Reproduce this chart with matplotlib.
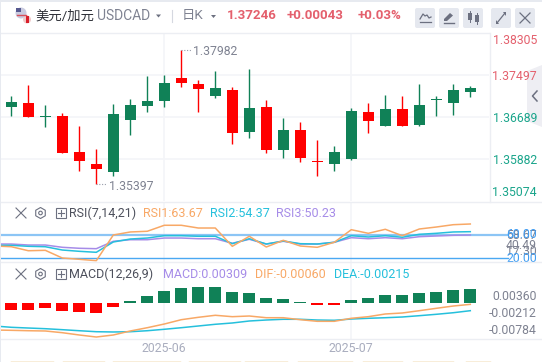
import matplotlib
matplotlib.use("Agg")
import matplotlib.pyplot as plt
from matplotlib.patches import Circle, FancyBboxPatch, Polygon, Rectangle, RegularPolygon

plt.rcParams['font.family'] = ['Roboto', 'Noto Sans CJK SC', 'DejaVu Sans']

# daily candles
opens = [1.36881, 1.36958, 1.36689, 1.36708, 1.36016, 1.35785, 1.35631, 1.36631, 1.36901, 1.36997,
         1.37439, 1.37324, 1.37093, 1.37208, 1.36400, 1.36881, 1.36054, 1.36439, 1.35842, 1.35785,
         1.35881, 1.36785, 1.36516, 1.36843, 1.36535, 1.37016, 1.36958, 1.37170]
highs = [1.37093, 1.37305, 1.36920, 1.36766, 1.36516, 1.36073, 1.36939, 1.37035, 1.37478, 1.37497,
         1.37982, 1.37401, 1.37574, 1.37266, 1.37612, 1.37016, 1.36670, 1.36593, 1.36247, 1.36131,
         1.36862, 1.36958, 1.37112, 1.37093, 1.37324, 1.37093, 1.37324, 1.37285]
lows = [1.36708, 1.36689, 1.36497, 1.35997, 1.35650, 1.35397, 1.35554, 1.36343, 1.36785, 1.36881,
        1.37266, 1.36785, 1.37055, 1.36170, 1.36285, 1.35997, 1.35900, 1.35823, 1.35554, 1.35650,
        1.35862, 1.36381, 1.36516, 1.36516, 1.36516, 1.36708, 1.36727, 1.37074]
closes = [1.36978, 1.36689, 1.36708, 1.35997, 1.35842, 1.35689, 1.36747, 1.36920, 1.36997, 1.37343,
          1.37343, 1.37228, 1.37247, 1.36381, 1.36862, 1.36054, 1.36439, 1.35900, 1.35823, 1.36016,
          1.36804, 1.36612, 1.36843, 1.36516, 1.36920, 1.37035, 1.37208, 1.37246]

price_ticks = [1.38305, 1.37497, 1.36689, 1.35882, 1.35074]

# indicator lines start one day before the first candle, off the left edge
rsi1 = [41.1, 39.9, 33.0, 33.7, 20.5, 18.3, 15.9, 60.0, 65.2, 66.4, 76.7, 76.7, 72.0, 72.0, 40.6,
        57.8, 39.4, 50.9, 41.1, 38.9, 47.5, 69.1, 62.9, 69.8, 58.8, 70.3, 73.7, 77.7, 78.9]
rsi2 = [42.3, 42.3, 40.6, 39.9, 34.2, 32.0, 30.3, 48.0, 53.1, 54.8, 58.8, 58.8, 57.8, 57.8, 45.1,
        53.6, 44.5, 49.7, 45.1, 44.5, 47.5, 58.8, 56.6, 58.8, 56.1, 61.2, 62.9, 65.2, 65.7]
rsi3 = [44.5, 44.5, 42.8, 42.8, 38.9, 37.2, 36.5, 49.2, 51.9, 51.9, 54.8, 54.8, 53.6, 53.6, 45.8,
        52.6, 44.5, 49.2, 44.5, 44.5, 47.5, 55.4, 53.6, 55.4, 53.6, 57.1, 58.3, 59.5, 60.0]
rsi_ticks = [58.67, 60.00, 40.49, 17.30, 20.00]

macd_hist = [-0.00156, -0.00156, -0.00111, -0.00178, -0.00200, -0.00222, -0.00089, 0.00044, 0.00156, 0.00267,
             0.00333, 0.00356, 0.00356, 0.00244, 0.00222, 0.00111, 0.00089, 0.00022, -0.00044, -0.00044,
             0.00067, 0.00111, 0.00178, 0.00178, 0.00222, 0.00244, 0.00289, 0.00309]
dif = [-0.00600, -0.00607, -0.00616, -0.00622, -0.00660, -0.00711, -0.00756, -0.00711, -0.00622, -0.00549,
       -0.00467, -0.00371, -0.00318, -0.00273, -0.00304, -0.00289, -0.00327, -0.00327, -0.00371, -0.00407,
       -0.00407, -0.00340, -0.00304, -0.00244, -0.00222, -0.00171, -0.00118, -0.00067, -0.00030]
dea = [-0.00511, -0.00540, -0.00556, -0.00571, -0.00593, -0.00616, -0.00638, -0.00644, -0.00638, -0.00616,
       -0.00584, -0.00549, -0.00511, -0.00473, -0.00444, -0.00400, -0.00378, -0.00362, -0.00362, -0.00378,
       -0.00384, -0.00356, -0.00340, -0.00327, -0.00311, -0.00282, -0.00251, -0.00216, -0.00171]
macd_ticks = [0.00360, -0.00212, -0.00784]

month_pos = [9, 20]
month_labels = ["2025-06", "2025-07"]

W, H = 542, 362
UP = "#108157"
DOWN = "#ff0000"
ORANGE = "#f8a866"
CYAN = "#25c0dc"
PURPLE = "#a68ce8"
GRID = "#f4f5f8"
LINE = "#eceef3"
GREY = "#7e8291"
ICON = "#6c7080"
days = list(range(len(opens)))
line_days = list(range(-1, len(opens)))

fig = plt.figure(figsize=(W / 100, H / 100), dpi=100, facecolor="white")


def pixel_axes(z):
    a = fig.add_axes([0, 0, 1, 1])
    a.set_xlim(0, W)
    a.set_ylim(H, 0)
    a.axis("off")
    a.set_zorder(z)
    return a


# side tab sits under the price labels, the rest of the chrome over the panels
under = pixel_axes(-1)
under.add_patch(Polygon([(542, 65), (527, 71), (527, 121), (542, 127)], color="#eeeef3", lw=0))
bg = pixel_axes(5)
bg.add_patch(Rectangle((0, 0), W, 2, color="#e7eaf0", lw=0))
bg.add_patch(Rectangle((0, 0), 1, H, color="#e7eaf0", lw=0))


def panel(top, bottom, ylim):
    ax = fig.add_axes([1 / W, 1 - bottom / H, 488 / W, (bottom - top) / H])
    ax.set_xlim((1 - 11.3) / 17, (489 - 11.3) / 17)
    ax.set_ylim(*ylim)
    ax.patch.set_alpha(0)
    ax.axis("off")
    for m in month_pos:
        ax.axvline(m, color=GRID, lw=1.2, zorder=0)
    return ax


def tick(ax, value, label, color, dy=0):
    ax.annotate(label, xy=(1, value), xycoords=ax.get_yaxis_transform(), xytext=(48, dy),
                textcoords="offset pixels", ha="right", va="center", fontsize=8.8, color=color,
                annotation_clip=False)


def px_text(x, y, s, color, size=9.0, ha="left", weight="normal"):
    bg.text(x, y, s, color=color, fontsize=size, ha=ha, va="center", fontweight=weight)


# main candle panel
ax = panel(33, 201, (price_ticks[-1], price_ticks[0]))
for p in price_ticks[:-1]:
    ax.axhline(p, color=GRID, lw=1.2, zorder=0)
colors = [UP if c >= o else DOWN for o, c in zip(opens, closes)]
ax.vlines(days, lows, highs, colors=colors, lw=1.0, zorder=2)
ax.bar(days, [abs(c - o) for o, c in zip(opens, closes)], bottom=[min(o, c) for o, c in zip(opens, closes)],
       width=0.65, color=colors, lw=0, zorder=3)
hi = highs.index(max(highs))
lo = lows.index(min(lows))
ax.plot([hi, hi + 0.55], [highs[hi]] * 2, color="#9a9eab", lw=0.8, ls=(0, (1, 1.5)))
ax.plot([lo, lo + 0.55], [lows[lo]] * 2, color="#9a9eab", lw=0.8, ls=(0, (1, 1.5)))
ax.annotate("%.5f" % highs[hi], xy=(hi, highs[hi]), xytext=(12, -2), textcoords="offset pixels",
            color=GREY, fontsize=8.8, va="center")
ax.annotate("%.5f" % lows[lo], xy=(lo, lows[lo]), xytext=(13, -2), textcoords="offset pixels",
            color=GREY, fontsize=8.8, va="center")
price_colors = ["#e4606d", "#e4606d", "#1aa58b", "#1aa58b", "#1aa58b"]
price_dy = [-7.5, -1.5, -1, -2, 9]
for p, c, d in zip(price_ticks, price_colors, price_dy):
    tick(ax, p, "%.5f" % p, c, d)

# RSI panel
ax2 = panel(202, 262, (13.65, 116.65))
ax2.plot([-1, 29.2], [60, 60], color="#8cc5f5", lw=1.6, clip_on=False, zorder=1)
ax2.plot([-0.6, 29.2], [20, 20], color="#4aa8f2", lw=1.0, clip_on=False, zorder=1)
ax2.plot(line_days, rsi3, color=PURPLE, lw=1.1, zorder=2)
ax2.plot(line_days, rsi2, color=CYAN, lw=1.1, zorder=3)
ax2.plot(line_days, rsi1, color=ORANGE, lw=1.1, zorder=4)
rsi_colors = [GREY, "#3f9cf2", GREY, GREY, "#3f9cf2"]
rsi_dy = [0, 0, 1, 8, 0]
for v, c, d in zip(rsi_ticks, rsi_colors, rsi_dy):
    tick(ax2, v, "%.2f" % v, c, d)

# MACD panel
ax3 = panel(263, 339, (-0.008, 0.00889))
ax3.bar(days, macd_hist, width=0.7, color=[UP if v > 0 else DOWN for v in macd_hist], lw=0, zorder=2)
ax3.plot(line_days, dea, color=CYAN, lw=1.1, zorder=3)
ax3.plot(line_days, dif, color=ORANGE, lw=1.1, zorder=4)
for v, d in zip(macd_ticks, [-10, -1, 7.6]):
    tick(ax3, v, "%.5f" % v, GREY, d)
for m, s in zip(month_pos, month_labels):
    ax3.annotate(s, xy=(m, 0), xycoords=ax3.get_xaxis_transform(), xytext=(0, -9), textcoords="offset pixels",
                 ha="center", va="center", fontsize=8.8, color="#a9adbe", annotation_clip=False)

# separators
for y in [33, 202, 262, 339]:
    bg.plot([1, W if y != 33 else 489], [y, y], color=LINE, lw=1.0)
bg.plot([489.5, 489.5], [33, 202], color=LINE, lw=1.0)

# cut-off row under the chart
for x0, x1 in [(11, 53), (63, 104), (113, 180), (189, 240), (245, 287), (298, 352), (363, 402), (413, 453), (466, 490)]:
    bg.plot([x0, x1], [361.5, 361.5], color="#dda63f", lw=1.0)

# header
bg.add_patch(Circle((21, 13), 5.5, color="#c9cbe0", lw=0))
bg.add_patch(Rectangle((16, 8), 5, 4, color="#56598f", lw=0))
bg.plot([17, 26], [14.5, 14.5], color="#d8505a", lw=1)
bg.add_patch(Circle((27, 19.5), 4, color="#f0c9c9", lw=0))
bg.add_patch(Rectangle((25.5, 16), 3, 7, color="#d91e2a", lw=0))
px_text(35, 16, "美元/加元", "#2e3038", 9.6)
px_text(97, 16.5, "USDCAD", GREY, 10.0)
bg.add_patch(Polygon([(156, 14.5), (161, 14.5), (158.5, 17.5)], color=ICON, lw=0))
bg.plot([172, 172], [10, 22], color="#d5d8e0", lw=0.8)
px_text(182, 15, "日K", GREY, 9.6)
bg.add_patch(Polygon([(211, 15), (216, 15), (213.5, 18)], color=ICON, lw=0))
px_text(227, 15.5, "1.37246", "#e4606d", 9.6, weight="bold")
px_text(287, 15.5, "+0.00043", "#e4606d", 9.6, weight="bold")
px_text(358, 15.5, "+0.03%", "#e4606d", 9.6, weight="bold")

# header buttons
for x in [415, 439, 463, 491, 515]:
    bg.add_patch(FancyBboxPatch((x + 2, 10), 16, 16, boxstyle="round,pad=2", color="#e5e8ef", lw=0))
bg.plot([420, 423, 425, 427, 429, 431], [19, 14, 16, 15, 18, 17], color=ICON, lw=0.9)
bg.plot([420, 431], [22, 22], color=ICON, lw=0.9)
bg.add_patch(Polygon([(444, 19), (450, 13), (453, 15.5), (447, 21), (444, 21)], color=ICON, lw=0))
bg.plot([444, 454], [22.5, 22.5], color=ICON, lw=1.0)
bg.add_patch(Rectangle((468, 13), 4, 7, color=ICON, lw=0))
bg.plot([470, 470], [11, 22], color=ICON, lw=0.7)
bg.add_patch(Rectangle((475, 15), 4, 7, color=ICON, lw=0))
bg.plot([477, 477], [13, 24], color=ICON, lw=0.7)
bg.plot([497, 505], [23, 13], color=ICON, lw=0.9)
bg.add_patch(Polygon([(503, 12), (506, 12), (506, 16)], color=ICON, lw=0))
bg.add_patch(Polygon([(496, 24), (499, 24), (496, 20)], color=ICON, lw=0))
bg.plot([520, 530], [13, 23], color=ICON, lw=0.9)
bg.plot([520, 530], [23, 13], color=ICON, lw=0.9)

# chevron on the side tab
bg.plot([537, 532.5, 537], [91, 96, 101], color=ICON, lw=1.1)


def tools(y):
    bg.plot([16, 26], [y - 5, y + 5], color=ICON, lw=0.8)
    bg.plot([16, 26], [y + 5, y - 5], color=ICON, lw=0.8)
    bg.add_patch(RegularPolygon((40.5, y), 6, radius=5.5, fill=False, edgecolor=ICON, lw=0.8))
    bg.add_patch(Circle((40.5, y), 1.8, fill=False, edgecolor=ICON, lw=0.8))
    bg.add_patch(Rectangle((55.5, y - 5), 10, 10, fill=False, edgecolor=ICON, lw=0.8))
    bg.plot([57.5, 63.5], [y, y], color=ICON, lw=0.8)
    bg.plot([60.5, 60.5], [y - 3, y + 3], color=ICON, lw=0.8)


tools(213)
tools(274)
px_text(69, 213.5, "RSI(7,14,21)", "#4d505c")
px_text(143, 213.5, "RSI1:63.67", ORANGE)
px_text(210, 213.5, "RSI2:54.37", CYAN)
px_text(276, 213.5, "RSI3:50.23", PURPLE)
px_text(69.5, 274.5, "MACD(12,26,9)", "#4d505c")
px_text(163, 274.5, "MACD:0.00309", PURPLE)
px_text(255, 274.5, "DIF:-0.00060", ORANGE)
px_text(334, 274.5, "DEA:-0.00215", CYAN)

fig.savefig("out.png", dpi=100)
